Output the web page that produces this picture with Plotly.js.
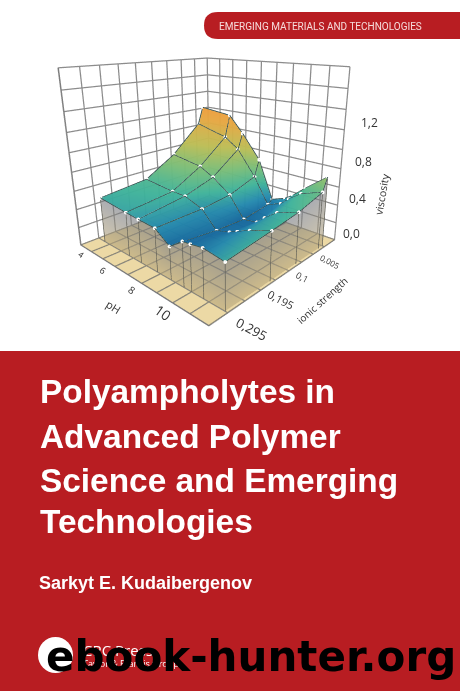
<!DOCTYPE html>
<html><head><meta charset="utf-8">
<script src="https://cdn.plot.ly/plotly-3.0.1.min.js"></script>
<style>html,body{margin:0;padding:0;background:#fff}#c{width:460px;height:691px}</style>
</head><body><div id="c"></div>
<script>
const pH=[4.5,6.3,7.1,8.1,8.9,9.6,10,10.6,11.6];
const ionic=[0.005,0.02,0.1,0.18,0.295];
const viscosity=[
 [1.24,1.20,1.02,0.76,0.34,0.40,0.46,0.58,0.76],
 [1.05,0.96,0.85,0.58,0.30,0.36,0.44,0.54,0.62],
 [0.75,0.70,0.62,0.48,0.26,0.28,0.36,0.46,0.54],
 [0.55,0.52,0.52,0.45,0.28,0.32,0.36,0.42,0.50],
 [0.50,0.47,0.46,0.45,0.34,0.45,0.46,0.48,0.45]];
const shade=[
 [1.24,1.20,1.02,0.76,0.34,0.40,0.46,0.58,0.76],
 [1.05,0.96,0.85,0.58,0.30,0.36,0.44,0.54,0.62],
 [0.75,0.70,0.62,0.48,0.26,0.28,0.36,0.46,0.54],
 [0.55,0.52,0.50,0.40,0.28,0.28,0.32,0.42,0.50],
 [0.48,0.46,0.42,0.38,0.27,0.27,0.27,0.31,0.47]];
const pHTicks=[4,6,8,10], pHLabels=['4','6','8','10'];
const ionicTicks=[0.005,0.1,0.195,0.295], ionicLabels=['0,005','0,1','0,195','0,295'];
const zTicks=[0,0.4,0.8,1.2], zLabels=['0,0','0,4','0,8','1,2'];
const pHRange=[11.7,4], ionicRange=[-0.0364,0.3364], zRange=[0,1.8];
const pHGrid=[4,4.856,5.711,6.567,7.422,8.278,9.133,9.989,10.844,11.7];
const ionicGrid=[-0.0364,0.005,0.0464,0.0879,0.1293,0.1707,0.2121,0.2536,0.295,0.3364];
const zGrid=[0,0.2,0.4,0.6,0.8,1,1.2,1.4,1.6,1.8];

const scale=[[0,'#16699f'],[0.1,'#2489ae'],[0.24,'#3fb29a'],[0.4,'#78bd79'],[0.6,'#bcbd55'],[0.85,'#e6a742'],[1,'#ee9c3c']];
const traces=[];
traces.push({type:'surface',x:pH,y:ionic,z:viscosity,surfacecolor:shade,colorscale:scale,cmin:0.27,cmax:1.26,showscale:false,opacity:0.97,
  lighting:{ambient:1,diffuse:0,specular:0,roughness:1,fresnel:0},hoverinfo:'skip'});
function curtain(xs,ys,zs){
  const n=xs.length, i=[],j=[],k=[];
  for(let a=0;a<n-1;a++){i.push(a,a+1);j.push(a+1,a+1+n);k.push(a+n,a+n);}
  traces.push({type:'mesh3d',x:xs.concat(xs),y:ys.concat(ys),z:zs.concat(zs.map(()=>0.005)),i,j,k,
   intensity:zs.map(()=>0).concat(zs.map(()=>1)),colorscale:[[0,'#75787e'],[1,'#b8a67a']],cmin:0,cmax:1,showscale:false,opacity:0.6,
   lighting:{ambient:1,diffuse:0,specular:0},hoverinfo:'skip'});
}
const last=ionic.length-1, lastP=pH.length-1;
curtain(pH,pH.map(()=>ionic[last]),viscosity[last]);
curtain(ionic.map(()=>pH[lastP]),ionic,viscosity.map(r=>r[lastP]));
function line(x,y,z,color,w,mode){traces.push({type:'scatter3d',mode:mode||'lines',x,y,z,line:{color,width:w},marker:{color:'#fff',size:2.2},hoverinfo:'skip',showlegend:false});}
ionic.forEach((v,i)=>line(pH,pH.map(()=>v),viscosity[i],'#35504f',1.8,'lines+markers'));
[0,1,2,3,4,8].forEach(j=>line(ionic.map(()=>pH[j]),ionic,viscosity.map(r=>r[j]),'#35504f',1.8));
pH.forEach((p,j)=>line([p,p],[ionic[last],ionic[last]],[viscosity[last][j],0],'#5a5a52',1.5));
ionic.forEach((v,i)=>line([pH[lastP],pH[lastP]],[v,v],[viscosity[i][lastP],0],'#5a5a52',1.5));
pHGrid.forEach(p=>line([p,p],[ionicRange[0],ionicRange[1]],[0.004,0.004],'#8a8470',1.5));
ionicGrid.forEach(v=>line([pHRange[0],pHRange[1]],[v,v],[0.004,0.004],'#8a8470',1.5));

const tf=(s)=>({size:s,color:'#333',family:'Open Sans'});
const ann=[];
const pHSizes=[8,9,10,14], ionicSizes=[8,9,11,13];
const pHShiftX=[1,-4,-5,-10], ionicShiftX=[6,5,14,24], ionicShiftY=[-14,-12,-13,-16], zShiftX=[17,20,23,25];
pHTicks.forEach((t,i)=>ann.push({x:t,y:ionicRange[1],z:0,yshift:-9,xshift:pHShiftX[i],text:pHLabels[i],showarrow:false,textangle:35,font:tf(pHSizes[i])}));
ionicTicks.forEach((t,i)=>ann.push({x:pHRange[0],y:t,z:0,xshift:ionicShiftX[i],yshift:ionicShiftY[i],text:ionicLabels[i],showarrow:false,textangle:28,font:tf(ionicSizes[i])}));
zTicks.forEach((t,i)=>ann.push({x:pHRange[0],y:ionicRange[0],z:t,xshift:zShiftX[i],yshift:7,text:zLabels[i],showarrow:false,font:tf(12)}));
ann.push({x:8,y:ionicRange[1],z:0,xshift:-24,yshift:-26,text:'pH',showarrow:false,textangle:32,font:tf(11)});
ann.push({x:pHRange[0],y:0.15,z:0,xshift:40,yshift:-24,text:'ionic strength',showarrow:false,textangle:-42,font:tf(10)});
ann.push({x:pHRange[0],y:ionicRange[0],z:0.8,xshift:41,yshift:-25,text:'viscosity',showarrow:false,textangle:-80,font:tf(10.5)});

const ax=(range,vals)=>({range,tickmode:'array',tickvals:vals,ticktext:vals.map(()=>''),showticklabels:false,title:{text:''},
  gridcolor:'#8c8c8c',gridwidth:2.5,showbackground:false,zeroline:false,showline:true,linecolor:'#7a7a7a',linewidth:3,showspikes:false,ticks:''});
const layout={width:460,height:691,margin:{l:0,r:0,t:0,b:0},paper_bgcolor:'#fff',showlegend:false,
 scene:{domain:{x:[0,1],y:[0.49,1]},aspectmode:'manual',aspectratio:{x:1,y:1,z:0.95},
  camera:{eye:{x:-1.519,y:1.486,z:0.648},center:{x:-0.082,y:-0.082,z:-0.085},up:{x:0,y:0,z:1},projection:{type:'perspective'}},
  xaxis:ax(pHRange,pHGrid),yaxis:ax(ionicRange,ionicGrid),
  zaxis:Object.assign(ax(zRange,zGrid),{showbackground:true,backgroundcolor:'#ecd9a5'}),
  annotations:ann},
 shapes:[
  {type:'rect',xref:'paper',yref:'paper',x0:0,x1:1,y0:0,y1:1-351/691,fillcolor:'#b81d22',line:{width:0},layer:'below'},
  {type:'path',xref:'paper',yref:'paper',layer:'below',fillcolor:'#b81d22',line:{width:0},
   path:`M 1 ${1-12/691} L ${218/460} ${1-12/691} Q ${204/460} ${1-12/691} ${204/460} ${1-25.5/691} Q ${204/460} ${1-39/691} ${218/460} ${1-39/691} L 1 ${1-39/691} Z`},
  {type:'circle',xref:'paper',yref:'paper',x0:38/460,x1:73/460,y0:1-673/691,y1:1-637/691,fillcolor:'#fff',line:{width:0}}
 ],
 annotations:[
  {xref:'paper',yref:'paper',x:217/460,y:1-26/691,xanchor:'left',yanchor:'middle',showarrow:false,text:'EMERGING MATERIALS AND TECHNOLOGIES',font:{family:'Roboto',size:10,color:'#f6dcdc'}},
  ...[['Polyampholytes in',392],['Advanced Polymer',437],['Science and Emerging',480],['Technologies',521]].map(([t,y])=>({xref:'paper',yref:'paper',x:38/460,y:1-y/691,xanchor:'left',yanchor:'middle',showarrow:false,text:'<b>'+t+'</b>',font:{family:'Liberation Sans',size:33.4,color:'#fff'}})),
  {xref:'paper',yref:'paper',x:37/460,y:1-583/691,xanchor:'left',yanchor:'middle',showarrow:false,text:'<b>Sarkyt E. Kudaibergenov</b>',font:{family:'Liberation Sans',size:18,color:'#fff'}},
  {xref:'paper',yref:'paper',x:81/460,y:1-650/691,xanchor:'left',yanchor:'middle',showarrow:false,text:'CRC Press',font:{family:'Open Sans',size:15,color:'#fff'}},
  {xref:'paper',yref:'paper',x:81/460,y:1-663/691,xanchor:'left',yanchor:'middle',showarrow:false,text:'Taylor & Francis Group',font:{family:'Open Sans',size:9,color:'#fff'}},
  {xref:'paper',yref:'paper',x:44/460,y:1-656/691,xanchor:'left',yanchor:'middle',showarrow:false,text:'<b>ebook-hunter.org</b>',font:{family:'DejaVu Sans',size:42,color:'#000'}}
 ]};
Plotly.newPlot('c',traces,layout,{displayModeBar:false});
</script></body></html>
